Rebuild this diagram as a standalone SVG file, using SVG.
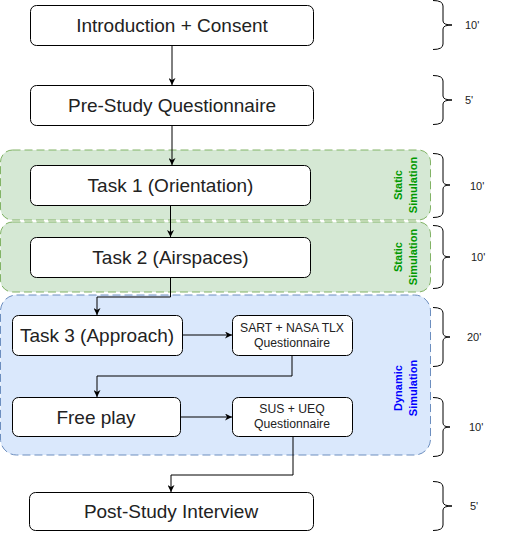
<svg xmlns="http://www.w3.org/2000/svg" width="507" height="533" viewBox="0 0 507 533">
<defs>
<marker id="arr" viewBox="0 0 10 10" refX="10" refY="5" markerWidth="7" markerHeight="7" orient="auto" markerUnits="userSpaceOnUse">
<path d="M0,0 L10,5 L0,10 L3,5 Z" fill="#000"/>
</marker>
<style>
.box{fill:#fff;stroke:#000;stroke-width:1}
.t{font-family:"Liberation Sans",Arial,sans-serif;fill:#222;text-anchor:middle;dominant-baseline:central}
.big{font-size:19px}
.small{font-size:12.2px}
.green{fill:#d5e8d4;stroke:#82b366;stroke-dasharray:8 4;stroke-width:1}
.blue{fill:#dae8fc;stroke:#6c8ebf;stroke-dasharray:8 4;stroke-width:1}
.gl{font-family:"Liberation Sans",Arial,sans-serif;font-weight:bold;font-size:11px;fill:#009900;text-anchor:middle}
.bl{font-family:"Liberation Sans",Arial,sans-serif;font-weight:bold;font-size:11px;fill:#0000ff;text-anchor:middle}
.brace{fill:none;stroke:#000;stroke-width:1}
.time{font-family:"Liberation Sans",Arial,sans-serif;font-size:11px;fill:#222;dominant-baseline:central}
.c{fill:none;stroke:#000;stroke-width:1;marker-end:url(#arr)}
</style>
</defs>
<rect width="507" height="533" fill="#fff"/>

<g id="static1">
<rect class="green" x="0.5" y="150" width="430" height="70" rx="12"/>
<g transform="rotate(-90 405 185)">
<text class="gl" x="405" y="182">Static</text>
<text class="gl" x="405" y="197">Simulation</text>
</g>
</g>
<g id="static2">
<rect class="green" x="0.5" y="222" width="430" height="70" rx="12"/>
<g transform="rotate(-90 405 257)">
<text class="gl" x="405" y="254">Static</text>
<text class="gl" x="405" y="269">Simulation</text>
</g>
</g>
<g id="dynamic">
<rect class="blue" x="0.5" y="295" width="430" height="160" rx="16"/>
<g transform="rotate(-90 405 388)">
<text class="bl" x="405" y="385">Dynamic</text>
<text class="bl" x="405" y="400">Simulation</text>
</g>
</g>

<g id="connectors">
<path class="c" d="M172,45 V85"/>
<path class="c" d="M172,125 V165"/>
<path class="c" d="M170.5,205 V237"/>
<path class="c" d="M170.5,277 V297 H97 V315"/>
<path class="c" d="M182,335 H232"/>
<path class="c" d="M292,355 V376 H97 V397"/>
<path class="c" d="M180,417 H232"/>
<path class="c" d="M293,436 V475 H171 V492"/>
</g>

<g id="intro">
<rect class="box" x="30.5" y="5.5" width="283" height="40" rx="6"/>
<text class="t big" x="172" y="25">Introduction + Consent</text>
</g>
<g id="pre">
<rect class="box" x="30.5" y="85.5" width="283" height="40" rx="6"/>
<text class="t big" x="172" y="105">Pre-Study Questionnaire</text>
</g>
<g id="task1">
<rect class="box" x="30.5" y="165.5" width="280" height="40" rx="6"/>
<text class="t big" x="170.5" y="185">Task 1 (Orientation)</text>
</g>
<g id="task2">
<rect class="box" x="30.5" y="237.5" width="280" height="40" rx="6"/>
<text class="t big" x="170.5" y="257">Task 2 (Airspaces)</text>
</g>
<g id="task3">
<rect class="box" x="12.5" y="315.5" width="170" height="40" rx="6"/>
<text class="t big" x="97" y="335">Task 3 (Approach)</text>
</g>
<g id="sart">
<rect class="box" x="232.5" y="315.5" width="120" height="40" rx="6"/>
<text class="t small" x="292" y="328">SART + NASA TLX</text>
<text class="t small" x="292" y="343">Questionnaire</text>
</g>
<g id="freeplay">
<rect class="box" x="12.5" y="397.5" width="168" height="39" rx="6"/>
<text class="t big" x="96" y="417">Free play</text>
</g>
<g id="sus">
<rect class="box" x="232.5" y="397.5" width="120" height="39" rx="6"/>
<text class="t small" x="292" y="409">SUS + UEQ</text>
<text class="t small" x="292" y="424">Questionnaire</text>
</g>
<g id="post">
<rect class="box" x="29.5" y="492.5" width="284" height="38" rx="6"/>
<text class="t big" x="171" y="511">Post-Study Interview</text>
</g>

<g id="braces">
<path class="brace" d="M433,0.5 Q443,0.5 443,6 V21 Q443,25 452,25 Q443,25 443,29 V44 Q443,49.5 433,49.5"/>
<text class="time" x="465" y="25">10'</text>
<path class="brace" d="M433,75.5 Q443,75.5 443,81 V96 Q443,100 452,100 Q443,100 443,104 V119 Q443,124.5 433,124.5"/>
<text class="time" x="465" y="100">5'</text>
<path class="brace" d="M433,153.5 Q443,153.5 443,159 V181 Q443,185 450,185 Q443,185 443,189 V212 Q443,217.5 433,217.5"/>
<text class="time" x="470" y="186">10'</text>
<path class="brace" d="M433,225.5 Q443,225.5 443,231 V253 Q443,257 450,257 Q443,257 443,261 V283 Q443,288.5 433,288.5"/>
<text class="time" x="471" y="257">10'</text>
<path class="brace" d="M433,307.5 Q443,307.5 443,313 V333 Q443,337 450,337 Q443,337 443,341 V361 Q443,366.5 433,366.5"/>
<text class="time" x="467" y="337">20'</text>
<path class="brace" d="M433,397.5 Q443,397.5 443,403 V423 Q443,427 450,427 Q443,427 443,431 V451 Q443,456.5 433,456.5"/>
<text class="time" x="469" y="427">10'</text>
<path class="brace" d="M433,481.5 Q443,481.5 443,487 V502 Q443,506 452,506 Q443,506 443,510 V525 Q443,530.5 433,530.5"/>
<text class="time" x="470" y="506">5'</text>
</g>
</svg>
